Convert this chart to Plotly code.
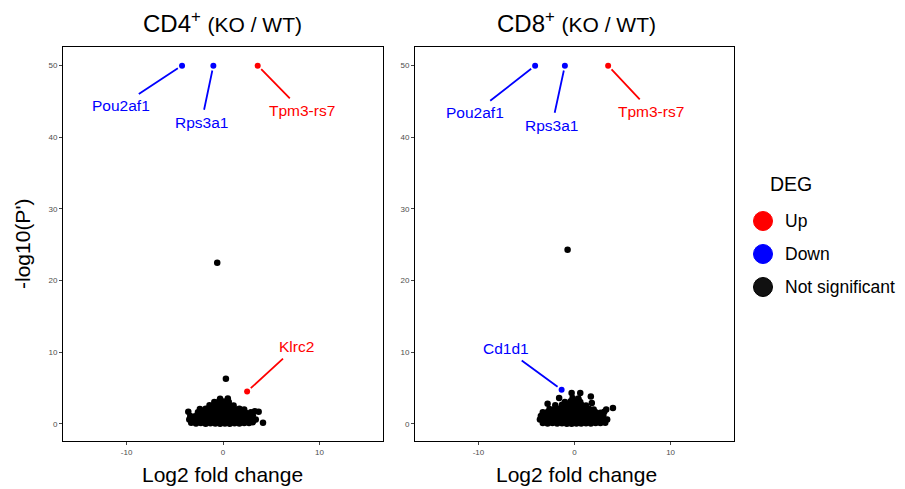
import plotly.graph_objects as go

# ---------------- data ----------------
panel_titles = ["CD4", "CD8"]

# highlighted genes (log2FC, -log10 P, class)
cd4_genes = ["Pou2af1", "Rps3a1", "Tpm3-rs7", "Klrc2"]
cd4_fc = [-4.25, -1.0, 3.6, 2.5]
cd4_p = [50, 50, 50, 4.5]
cd4_deg = ["Down", "Down", "Up", "Up"]

cd8_genes = ["Pou2af1", "Rps3a1", "Tpm3-rs7", "Cd1d1"]
cd8_fc = [-4.1, -1.0, 3.5, -1.34]
cd8_p = [50, 50, 50, 4.75]
cd8_deg = ["Down", "Down", "Up", "Down"]

# not-significant genes (log2FC, -log10 P)
cd4_ns = [
    (-0.6, 22.5), (0.3, 6.3),
    (-3.3, 0.15), (-2.8, 0.05), (-2.3, 0.1), (-1.8, 0.02), (-1.3, 0.08), (-0.8, 0.03), (-0.3, 0.0),
    (0.2, 0.05), (0.7, 0.02), (1.2, 0.07), (1.7, 0.04), (2.2, 0.1), (2.7, 0.12), (3.1, 0.2),
    (-3.5, 0.6), (-3.0, 0.55), (-2.5, 0.62), (-2.0, 0.5), (-1.5, 0.58), (-1.0, 0.6), (-0.5, 0.52),
    (0.0, 0.6), (0.5, 0.55), (1.0, 0.6), (1.5, 0.5), (2.0, 0.62), (2.5, 0.58), (3.0, 0.55), (3.4, 0.6),
    (-3.4, 1.1), (-2.9, 1.05), (-2.4, 1.15), (-1.9, 1.1), (-1.4, 1.0), (-0.9, 1.12), (-0.4, 1.05),
    (0.1, 1.1), (0.6, 1.08), (1.1, 1.12), (1.6, 1.0), (2.1, 1.1), (2.6, 1.05), (3.1, 1.15),
    (-3.6, 1.7), (-2.6, 1.6), (-2.1, 1.55), (-1.6, 1.65), (-1.1, 1.6), (-0.6, 1.62), (-0.1, 1.58),
    (0.4, 1.65), (0.9, 1.6), (1.4, 1.55), (1.9, 1.6), (2.4, 1.5), (2.9, 1.6), (3.3, 1.75),
    (-2.4, 2.05), (-1.8, 2.1), (-1.3, 2.15), (-0.8, 2.1), (-0.3, 2.2), (0.2, 2.1), (0.7, 2.15),
    (1.2, 2.05), (1.7, 2.1), (2.2, 2.0),
    (-1.4, 2.6), (-0.9, 2.65), (-0.4, 2.6), (0.1, 2.7), (0.6, 2.6), (1.1, 2.55),
    (-0.9, 3.05), (-0.4, 3.15), (0.1, 3.1), (0.6, 3.05),
    (-0.3, 3.5), (0.5, 3.55),
    (3.7, 1.7), (4.15, 0.15),
]

cd8_ns = [
    (-0.72, 24.3),
    (-3.3, 0.1), (-2.8, 0.05), (-2.3, 0.12), (-1.8, 0.03), (-1.3, 0.08), (-0.8, 0.02), (-0.3, 0.0),
    (0.2, 0.06), (0.7, 0.03), (1.2, 0.09), (1.7, 0.05), (2.2, 0.1), (2.7, 0.12), (3.2, 0.15),
    (-3.6, 0.6), (-3.1, 0.55), (-2.6, 0.62), (-2.1, 0.5), (-1.6, 0.58), (-1.1, 0.6), (-0.6, 0.52),
    (-0.1, 0.6), (0.4, 0.55), (0.9, 0.6), (1.4, 0.5), (1.9, 0.62), (2.4, 0.58), (2.9, 0.55), (3.4, 0.6),
    (-3.5, 1.1), (-3.0, 1.05), (-2.5, 1.15), (-2.0, 1.1), (-1.5, 1.0), (-1.0, 1.12), (-0.5, 1.05),
    (0.0, 1.1), (0.5, 1.08), (1.0, 1.12), (1.5, 1.0), (2.0, 1.1), (2.5, 1.05), (3.0, 1.15),
    (-3.3, 1.6), (-2.8, 1.65), (-2.3, 1.55), (-1.8, 1.6), (-1.3, 1.62), (-0.8, 1.58), (-0.3, 1.65),
    (0.2, 1.6), (0.7, 1.55), (1.2, 1.6), (1.7, 1.5), (2.2, 1.6), (2.7, 1.55), (3.1, 1.7),
    (-2.6, 2.05), (-2.0, 2.1), (-1.5, 2.15), (-1.0, 2.1), (-0.5, 2.2), (0.0, 2.1), (0.5, 2.15),
    (1.0, 2.05), (1.5, 2.1), (2.0, 2.0),
    (-2.0, 2.6), (-1.3, 2.65), (-0.8, 2.6), (-0.3, 2.7), (0.2, 2.6), (0.7, 2.65), (1.2, 2.55),
    (-1.0, 3.05), (-0.4, 3.15), (0.1, 3.1), (0.6, 3.05),
    (-0.2, 3.6), (0.4, 3.55),
    (-0.3, 4.3), (0.6, 4.3), (1.7, 3.8), (-1.6, 3.6), (1.8, 2.9), (4.0, 2.2),
    (-2.8, 2.8), (-2.1, 2.0), (0.4, 3.4), (3.3, 2.0),
]

# label offsets (pixels) for gene labels
cd4_lab_dx = [-61, -12, 44, 49]
cd4_lab_dy = [40, 57, 45, -45]
cd8_lab_dx = [-60, -13, 43, -56]
cd8_lab_dy = [47, 60, 46, -41]

x_ticks = [-10, 0, 10]
y_ticks = [0, 10, 20, 30, 40, 50]

deg_colors = {"Up": "#ff0000", "Down": "#0000ff", "Not significant": "#000000"}
legend_items = ["Up", "Down", "Not significant"]

# ---------------- figure ----------------
OFF = 8                      # page body margin
W, H = 905 - OFF, 489 - OFF  # figure size in pixels
FONT = "Liberation Sans, Arial, sans-serif"


def sx(px):
    return (px - OFF) / W


def sy(py):
    return 1 - (py - OFF) / H


fig = go.Figure()

panels = [
    dict(ns=cd4_ns, genes=cd4_genes, fc=cd4_fc, p=cd4_p, deg=cd4_deg,
         dx=cd4_lab_dx, dy=cd4_lab_dy, xa="x", ya="y"),
    dict(ns=cd8_ns, genes=cd8_genes, fc=cd8_fc, p=cd8_p, deg=cd8_deg,
         dx=cd8_lab_dx, dy=cd8_lab_dy, xa="x2", ya="y2"),
]

annotations = []
for pnl in panels:
    fig.add_trace(go.Scatter(
        x=[a for a, b in pnl["ns"]], y=[b for a, b in pnl["ns"]],
        mode="markers", xaxis=pnl["xa"], yaxis=pnl["ya"],
        marker=dict(color="#000000", size=6.5, line=dict(width=0)),
        showlegend=False, hoverinfo="skip"))
    fig.add_trace(go.Scatter(
        x=pnl["fc"], y=pnl["p"], mode="markers", xaxis=pnl["xa"], yaxis=pnl["ya"],
        marker=dict(color=[deg_colors[d] for d in pnl["deg"]], size=6, line=dict(width=0)),
        showlegend=False, hoverinfo="skip"))
    for g, fx, py, d, dx, dy in zip(pnl["genes"], pnl["fc"], pnl["p"], pnl["deg"], pnl["dx"], pnl["dy"]):
        annotations.append(dict(
            x=fx, y=py, xref=pnl["xa"], yref=pnl["ya"], text=g,
            showarrow=True, ax=dx, ay=dy, arrowhead=0, arrowwidth=1.8,
            arrowcolor=deg_colors[d], standoff=5, startstandoff=3,
            font=dict(family=FONT, size=15.5, color=deg_colors[d])))

# domains (screen-pixel based)
x1d = [sx(63), sx(383)]
x2d = [sx(415), sx(734)]
yd = [sy(441), sy(47)]

axis_common = dict(showgrid=False, zeroline=False, showline=True, mirror=True,
                   linecolor="#000000", linewidth=1, ticks="outside", ticklen=3,
                   tickcolor="#444444", tickwidth=1,
                   tickfont=dict(family=FONT, size=8, color="#4d4d4d"))

fig.update_layout(
    width=W, height=H, margin=dict(l=0, r=0, t=0, b=0),
    paper_bgcolor="white", plot_bgcolor="white",
    xaxis=dict(domain=x1d, range=[-16.6, 16.6], tickvals=x_ticks,
               ticktext=[str(v) for v in x_ticks], anchor="y", **axis_common),
    yaxis=dict(domain=yd, range=[-2.4, 52.6], tickvals=y_ticks, anchor="x", **axis_common),
    xaxis2=dict(domain=x2d, range=[-16.6, 16.6], tickvals=x_ticks,
                ticktext=[str(v) for v in x_ticks], anchor="y2", **axis_common),
    yaxis2=dict(domain=yd, range=[-2.4, 52.6], tickvals=y_ticks, anchor="x2", **axis_common),
    showlegend=False,
)

# panel titles and x-axis titles
for name, cx in zip(panel_titles, [222, 576]):
    annotations.append(dict(
        x=sx(cx), y=sy(22), xref="paper", yref="paper",
        text=name + "<sup>+</sup> <span style='font-size:21px'>(KO / WT)</span>",
        showarrow=False, xanchor="center", yanchor="middle",
        font=dict(family=FONT, size=24, color="#000000")))
    annotations.append(dict(
        x=sx(cx), y=sy(474), xref="paper", yref="paper",
        text="Log2 fold change", showarrow=False, xanchor="center", yanchor="middle",
        font=dict(family=FONT, size=21, color="#000000")))

annotations.append(dict(
    x=sx(22), y=sy(244), xref="paper", yref="paper", text="-log10(P')",
    textangle=-90, showarrow=False, xanchor="center", yanchor="middle",
    font=dict(family=FONT, size=21, color="#000000")))

# legend (drawn manually)
annotations.append(dict(
    x=sx(768), y=sy(184), xref="paper", yref="paper", text="DEG",
    showarrow=False, xanchor="left", yanchor="middle",
    font=dict(family=FONT, size=19.5, color="#000000")))
shapes = []
for i, item in enumerate(legend_items):
    cy = 221 + 33 * i
    shapes.append(dict(type="circle", xref="paper", yref="paper",
                       x0=sx(763 - 9.5), x1=sx(763 + 9.5),
                       y0=sy(cy + 9.5), y1=sy(cy - 9.5),
                       fillcolor=deg_colors[item] if item != "Not significant" else "#111111",
                       line=dict(color=deg_colors[item], width=1)))
    annotations.append(dict(
        x=sx(783), y=sy(cy), xref="paper", yref="paper", text=item,
        showarrow=False, xanchor="left", yanchor="middle",
        font=dict(family=FONT, size=17.5, color="#000000")))

fig.update_layout(annotations=annotations, shapes=shapes)
fig.write_html("out.html")
